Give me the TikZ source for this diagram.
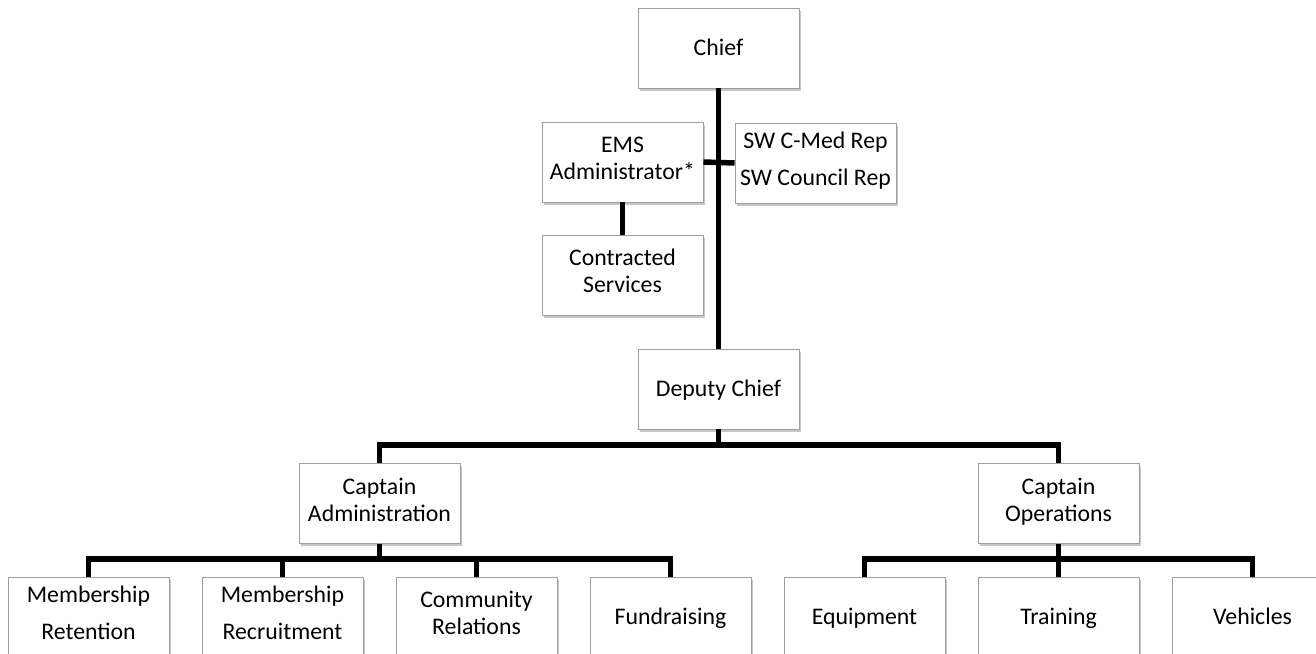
\documentclass[tikz,border=0pt]{standalone}
\usepackage{fontspec}
\setmainfont{Carlito}
\usetikzlibrary{shadows}
\begin{document}
\begin{tikzpicture}[x=1pt,y=-1pt,
  orgbox/.style={draw=black!38, line width=0.9pt, fill=white, minimum width=161pt, minimum height=80pt,
    inner sep=0pt, align=center, font=\fontsize{23.8}{27}\selectfont,
    execute at begin node=\rule{0pt}{23pt}, execute at end node=\strut,
    drop shadow={shadow xshift=1.8pt, shadow yshift=-2.5pt, fill=black!22, opacity=1}},
  link/.style={line width=5.5pt, black}]
\useasboundingbox (0,0) rectangle (1316,653);
\clip (0,0) rectangle (1316,653);
\coordinate (barY) at (0,445);
\coordinate (subY) at (0,559);
\node[orgbox] (chief) at (718.5,48) {Chief};
\node[orgbox] (ems) at (622.5,162) {EMS\\Administrator*};
\node[orgbox] (sw) at (815.5,163) {SW C-Med Rep\\[10pt]SW Council Rep};
\node[orgbox] (contr) at (622.5,275) {Contracted\\Services};
\node[orgbox] (deputy) at (718.5,389) {Deputy Chief};
\node[orgbox] (capadm) at (379.5,503.5) {Captain\\Administration};
\node[orgbox] (capops) at (1058.5,503.5) {Captain\\Operations};
\node[orgbox] (ret) at (88.5,617) {Membership\\[10pt]Retention};
\node[orgbox] (rec) at (282.5,617) {Membership\\[10pt]Recruitment};
\node[orgbox] (com) at (476.5,617) {Community\\Relations};
\node[orgbox] (fund) at (670.5,617) {Fundraising};
\node[orgbox] (equ) at (864.5,617) {Equipment};
\node[orgbox] (tra) at (1058.5,617) {Training};
\node[orgbox] (veh) at (1252.5,617) {Vehicles};
\draw[link] (chief.south) -- (deputy.north);
\draw[link] (ems.east) -- (sw.west);
\draw[link] (ems.south) -- (contr.north);
\draw[link] (deputy.south) -- (deputy.south |- barY) -| (capadm.north);
\draw[link] (deputy.south |- barY) -| (capops.north);
\draw[link] (capadm.south) -- (capadm.south |- subY);
\draw[link] (ret.north) |- (fund.north |- subY) -- (fund.north);
\draw[link] (rec.north) -- (rec.north |- subY);
\draw[link] (com.north) -- (com.north |- subY);
\draw[link] (capops.south) -- (capops.south |- subY);
\draw[link] (equ.north) |- (veh.north |- subY) -- (veh.north);
\draw[link] (tra.north) -- (tra.north |- subY);
\end{tikzpicture}
\end{document}
